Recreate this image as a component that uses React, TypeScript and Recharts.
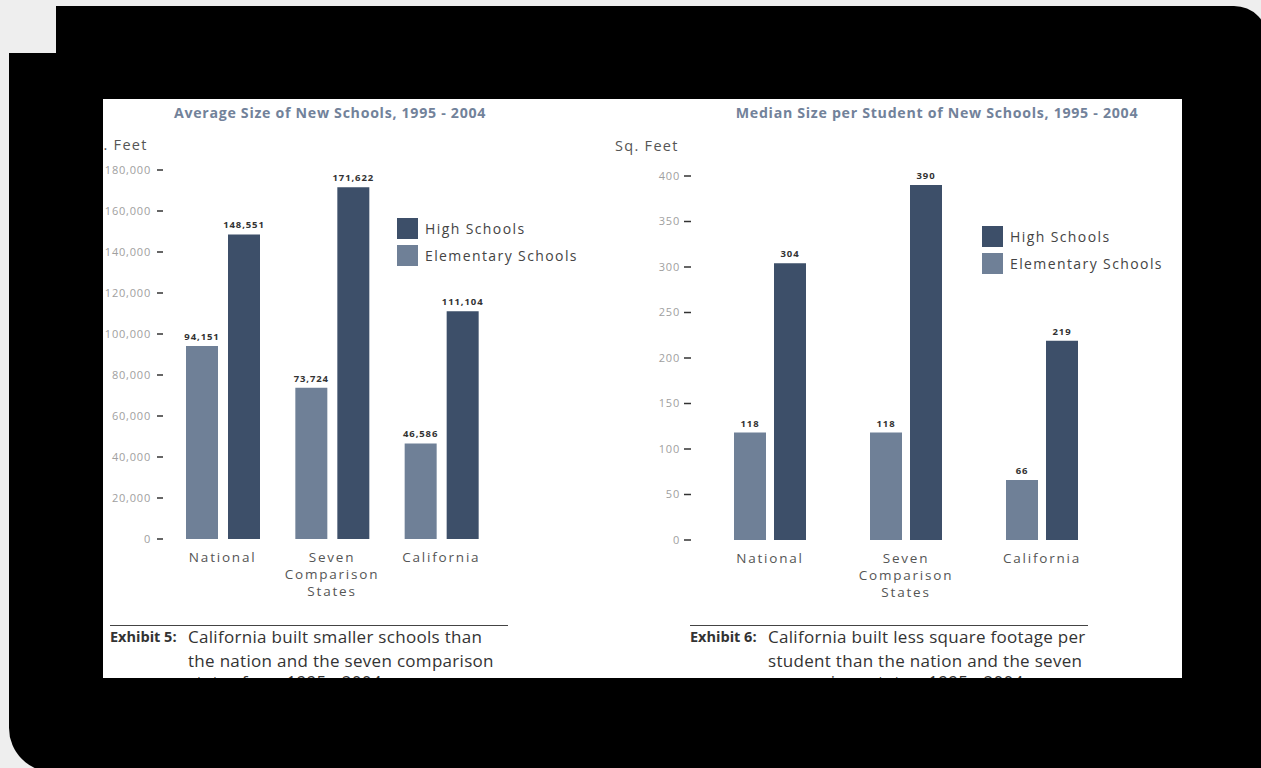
import React from 'react';
import { BarChart, Bar, XAxis, YAxis, LabelList, Legend } from 'recharts';

// Categories shared by both exhibits
const categories = ['National', 'Seven Comparison States', 'California'];

// Exhibit 5: average size of new schools (sq. ft.)
const avgHigh = [148551, 171622, 111104];
const avgElementary = [94151, 73724, 46586];
const avgTicks = [0, 20000, 40000, 60000, 80000, 100000, 120000, 140000, 160000, 180000];

// Exhibit 6: median size per student (sq. ft.)
const perStudentHigh = [304, 390, 219];
const perStudentElementary = [118, 118, 66];
const perStudentTicks = [0, 50, 100, 150, 200, 250, 300, 350, 400];

const HIGH = '#3d4f69';
const ELEM = '#6f8097';
const FONT = '"Open Sans", sans-serif';

const avgData = categories.map((name, i) => ({
  name,
  elementary: avgElementary[i],
  high: avgHigh[i],
}));

const perStudentData = categories.map((name, i) => ({
  name,
  elementary: perStudentElementary[i],
  high: perStudentHigh[i],
}));

const CategoryTick = (props: any) => {
  const { x, y, payload } = props;
  const words: string[] = payload.value.split(' ');
  return (
    <text
      x={x}
      y={y}
      textAnchor="middle"
      fill="#555"
      fontSize={13.5}
      fontFamily={FONT}
      letterSpacing={1.8}
    >
      {words.map((w, i) => (
        <tspan key={w} x={x} dy={i === 0 ? 15 : 17}>
          {w}
        </tspan>
      ))}
    </text>
  );
};

const LegendBox = (props: any) => {
  const items = [...(props.payload || [])].sort((a: any) => (a.value === 'High Schools' ? -1 : 1));
  return (
    <div style={{ fontFamily: FONT, whiteSpace: 'nowrap' }}>
      {items.map((item: any) => (
        <div key={item.value} style={{ display: 'flex', alignItems: 'center', height: 21, marginBottom: 6 }}>
          <div style={{ width: 21, height: 21, background: item.color, marginRight: 7 }} />
          <span style={{ fontSize: 14, color: '#444', letterSpacing: 1.4 }}>{item.value}</span>
        </div>
      ))}
    </div>
  );
};

interface SchoolChartProps {
  data: { name: string; elementary: number; high: number }[];
  ticks: number[];
  width: number;
  height: number;
  margin: { top: number; right: number; left: number; bottom: number };
  yAxisWidth: number;
  padLeft: number;
  barGap: number;
  tickSize: number;
  tickMargin: number;
  legendPos: { left: number; top: number };
}

const valueStyle = { fill: '#333', fontSize: 9.5, fontWeight: 700, fontFamily: FONT, letterSpacing: 0.9 };

const SchoolChart: React.FC<SchoolChartProps> = ({
  data,
  ticks,
  width,
  height,
  margin,
  yAxisWidth,
  padLeft,
  barGap,
  tickSize,
  tickMargin,
  legendPos,
}) => (
  <BarChart width={width} height={height} data={data} margin={margin} barSize={32} barGap={barGap}>
    <XAxis
      dataKey="name"
      axisLine={false}
      tickLine={false}
      interval={0}
      height={60}
      padding={{ left: padLeft, right: 0 }}
      tick={<CategoryTick />}
    />
    <YAxis
      width={yAxisWidth}
      domain={[0, ticks[ticks.length - 1]]}
      ticks={ticks}
      interval={0}
      axisLine={false}
      tickSize={tickSize}
      tickMargin={tickMargin}
      tickLine={{ stroke: '#333', strokeWidth: 1.5 }}
      tickFormatter={(v: number) => v.toLocaleString('en-US')}
      tick={{ fill: '#a0a0a0', fontSize: 11, fontFamily: FONT, letterSpacing: 0.8 }}
    />
    <Legend
      layout="vertical"
      align="center"
      verticalAlign="middle"
      wrapperStyle={{ left: legendPos.left, top: legendPos.top, width: 220 }}
      content={<LegendBox />}
    />
    <Bar dataKey="elementary" name="Elementary Schools" fill={ELEM} isAnimationActive={false}>
      <LabelList
        dataKey="elementary"
        position="top"
        offset={6}
        formatter={(v: any) => Number(v).toLocaleString('en-US')}
        style={valueStyle}
      />
    </Bar>
    <Bar dataKey="high" name="High Schools" fill={HIGH} isAnimationActive={false}>
      <LabelList
        dataKey="high"
        position="top"
        offset={6}
        formatter={(v: any) => Number(v).toLocaleString('en-US')}
        style={valueStyle}
      />
    </Bar>
  </BarChart>
);

const titleStyle: React.CSSProperties = {
  position: 'absolute',
  width: 460,
  textAlign: 'center',
  fontSize: 14.2,
  fontWeight: 700,
  color: '#72829a',
  letterSpacing: 0.7,
  lineHeight: '16px',
  whiteSpace: 'nowrap',
};

const unitStyle: React.CSSProperties = {
  position: 'absolute',
  fontSize: 14.5,
  color: '#555',
  letterSpacing: 1.3,
  lineHeight: '18px',
  whiteSpace: 'nowrap',
};

// caption lines: the last one sits a little tighter and runs off the bottom of the page
const Caption: React.FC<{ left: number; label: string; lines: string[] }> = ({ left, label, lines }) => (
  <div style={{ position: 'absolute', left, top: 526, width: 398 }}>
    <div style={{ borderTop: '1.5px solid #444' }} />
    <div style={{ display: 'flex', color: '#333', whiteSpace: 'nowrap', marginTop: -1 }}>
      <span style={{ width: 78, fontSize: 14.5, fontWeight: 700, lineHeight: '24px' }}>{label}</span>
      <div style={{ fontSize: 17, lineHeight: '24px', letterSpacing: 0.3 }}>
        {lines.map((l, i) => (
          <div key={l} style={{ marginTop: i === 2 ? -3 : 0 }}>
            {l}
          </div>
        ))}
      </div>
    </div>
  </div>
);

export default function App() {
  return (
    <div
      style={{
        position: 'fixed',
        left: 0,
        top: 0,
        width: 1261,
        height: 768,
        background: '#eeeeee',
        overflow: 'hidden',
        fontFamily: FONT,
      }}
    >
      <div
        style={{ position: 'absolute', left: 56, top: 6, width: 1212, height: 770, background: '#000', borderTopRightRadius: 34 }}
      />
      <div
        style={{ position: 'absolute', left: 9, top: 53, width: 1259, height: 719, background: '#000', borderBottomLeftRadius: 44 }}
      />
      <div
        style={{ position: 'absolute', left: 103, top: 99, width: 1079, height: 579, background: '#fff', overflow: 'hidden' }}
      >
        <div style={{ ...titleStyle, left: -3, top: 6 }}>Average Size of New Schools, 1995 - 2004</div>
        <div style={{ ...titleStyle, left: 604, top: 6 }}>Median Size per Student of New Schools, 1995 - 2004</div>
        <div style={{ ...unitStyle, left: -19, top: 37 }}>Sq. Feet</div>
        <div style={{ ...unitStyle, left: 512, top: 38 }}>Sq. Feet</div>

        <div style={{ position: 'absolute', left: -63, top: 31 }}>
          <SchoolChart
            data={avgData}
            ticks={avgTicks}
            width={480}
            height={480}
            margin={{ top: 40, right: 24, left: 0, bottom: 11 }}
            yAxisWidth={123}
            padLeft={5}
            barGap={10}
            tickSize={6}
            tickMargin={6}
            legendPos={{ left: 357, top: 88 }}
          />
        </div>
        <div style={{ position: 'absolute', left: 497, top: 31 }}>
          <SchoolChart
            data={perStudentData}
            ticks={perStudentTicks}
            width={540}
            height={480}
            margin={{ top: 46, right: 30, left: 0, bottom: 10 }}
            yAxisWidth={91}
            padLeft={11}
            barGap={8}
            tickSize={7}
            tickMargin={4}
            legendPos={{ left: 382, top: 96 }}
          />
        </div>

        <Caption
          left={7}
          label="Exhibit 5:"
          lines={['California built smaller schools than', 'the nation and the seven comparison', 'states from 1995 - 2004']}
        />
        <Caption
          left={587}
          label="Exhibit 6:"
          lines={['California built less square footage per', 'student than the nation and the seven', 'comparison states, 1995 - 2004']}
        />
      </div>
    </div>
  );
}
